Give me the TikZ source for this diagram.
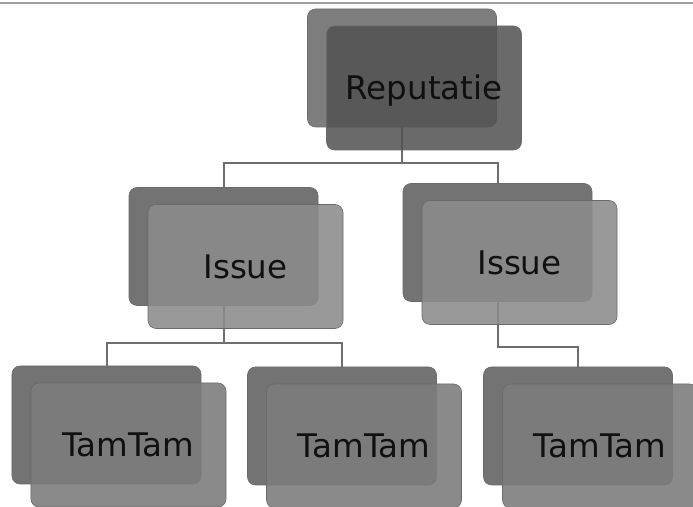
\documentclass[tikz,border=0pt]{standalone}
\usepackage{fontspec}
\setmainfont{DejaVu Sans}
\usetikzlibrary{calc}

\definecolor{repback}{HTML}{7D7D7D}
\definecolor{repfront}{HTML}{525252}
\definecolor{issback}{HTML}{737373}
\definecolor{issfront}{HTML}{8B8B8B}
\definecolor{tamback}{HTML}{737373}
\definecolor{tamfront}{HTML}{7C7C7C}
\definecolor{edgeclr}{HTML}{6A6A6A}
\definecolor{lineclr}{HTML}{6E6E6E}
\definecolor{textdark}{HTML}{101010}

\tikzset{
  backbox/.style={draw=edgeclr, line width=0.6bp, rounded corners=8bp,
    minimum width=189bp, minimum height=118bp, inner sep=0pt},
  frontbox/.style={draw=edgeclr, line width=0.6bp, rounded corners=8bp,
    minimum width=195bp, minimum height=124bp, inner sep=0pt,
    text=textdark, font=\fontsize{32.5bp}{36bp}\selectfont,
    text height=23.5bp, text depth=0bp},
  conn/.style={draw=lineclr, line width=2bp}
}

\begin{document}
\begin{tikzpicture}[x=1bp, y=1bp]
  \useasboundingbox (0,0) rectangle (693,507);
  \clip (0,0) rectangle (693,507);

  % frame line at the top
  \draw[gray!75, line width=2bp] (0,504) -- (693,504);

  % back cards
  \node[backbox, fill=repback] (repB) at (402,439) {};
  \node[backbox, fill=issback] (issLB) at (223.5,260.5) {};
  \node[backbox, fill=issback] (issRB) at (497.5,264.5) {};
  \node[backbox, fill=tamback] (tamAB) at (106.5,82) {};
  \node[backbox, fill=tamback] (tamBB) at (342,81) {};
  \node[backbox, fill=tamback] (tamCB) at (578,81) {};

  % connectors
  \draw[conn] (repB.south) -- ++(0,-36) -| (issLB.north);
  \draw[conn] (repB.south) -- ++(0,-36) -| (issRB.north);
  \draw[conn] (issLB.south) -- ++(0,-37) -| (tamAB.north);
  \draw[conn] (issLB.south) -- ++(0,-37) -| (tamBB.north);
  \draw[conn] (issRB.south) -- ++(0,-45) -| (tamCB.north);

  % front cards with the labels
  \node[frontbox, fill=repfront, fill opacity=0.86, text opacity=1] (rep) at ($(repB)+(22,-20)$) {Reputatie};
  \node[frontbox, fill=issfront, fill opacity=0.88, text opacity=1] (issL) at ($(issLB)+(22,-20)$) {Issue};
  \node[frontbox, fill=issfront, fill opacity=0.88, text opacity=1] (issR) at ($(issRB)+(22,-20)$) {Issue};
  \node[frontbox, fill=tamfront, fill opacity=0.89, text opacity=1] (tamA) at ($(tamAB)+(22,-20)$) {TamTam};
  \node[frontbox, fill=tamfront, fill opacity=0.89, text opacity=1] (tamB) at ($(tamBB)+(22,-20)$) {TamTam};
  \node[frontbox, fill=tamfront, fill opacity=0.89, text opacity=1] (tamC) at ($(tamCB)+(22,-20)$) {TamTam};
\end{tikzpicture}
\end{document}
